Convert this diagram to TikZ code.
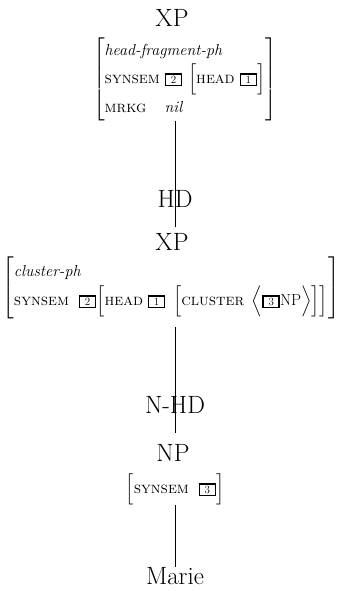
\documentclass[tikz,border=0pt]{standalone}
\usepackage{amsmath}
\newcommand{\tg}[1]{{\setlength{\fboxsep}{1.2pt}\setlength{\fboxrule}{1.6pt}\fbox{\makebox[0.75em]{\fontsize{11}{12}\selectfont #1}}}}
\newcommand{\ft}[1]{\textsc{#1}}
\newcommand{\strA}{\rule[-8pt]{0pt}{26pt}}
\newcommand{\strB}{\rule[-11pt]{0pt}{32pt}}
\tikzset{
  cat/.style={font=\fontsize{25}{30}\selectfont, inner sep=0pt},
  avm/.style={font=\fontsize{16}{19.5}\selectfont, inner sep=0pt},
  branch/.style={line width=0.7pt},
}
\begin{document}
\begin{tikzpicture}[x=1pt,y=-1pt]
\renewcommand{\arraystretch}{1.28}
\useasboundingbox (0,0) rectangle (342,591);
\node[cat] (xp1) at (172,18) {XP};
\node[avm] (avm1) at (185,79) {$\left[\begin{array}{@{}l@{\ }l@{}}
\multicolumn{2}{@{}l@{}}{\textit{head-fragment-ph}}\\
\ft{synsem} & \tg{2}\,\left[\strA\ft{head}\ \tg{1}\right]\\
\ft{mrkg} & \textit{nil}
\end{array}\right]$};
\node[cat] (hd) at (175,199) {HD};
\coordinate (e1) at (175,227);
\node[cat] (xp2) at (172,242) {XP};
\node[avm] (avm2) at (171,288) {$\left[\begin{array}{@{}l@{\ \ }l@{}}
\multicolumn{2}{@{}l@{}}{\textit{cluster-ph}}\\
\ft{synsem} & \tg{2}\!\left[\strB\ft{head}\ \tg{1}\ \left[\ft{cluster}\ \left\langle\strB\tg{3}\text{NP}\right\rangle\right]\right]
\end{array}\right]$};
\node[cat] (nhd) at (175,405) {N-HD};
\coordinate (s2) at (175,327);
\coordinate (e2) at (175,433);
\node[cat] (np) at (173,453) {NP};
\node[avm] (avm3) at (175,489) {$\left[\rule[-8pt]{0pt}{24pt}\ft{synsem}\ \ \tg{3}\right]$};
\node[cat] (marie) at (175,576) {Marie};
\draw[branch] (avm1.south -| hd) -- (e1);
\draw[branch] (s2) -- (e2);
\draw[branch] (avm3.south -| marie) -- (marie.north);
\end{tikzpicture}
\end{document}
